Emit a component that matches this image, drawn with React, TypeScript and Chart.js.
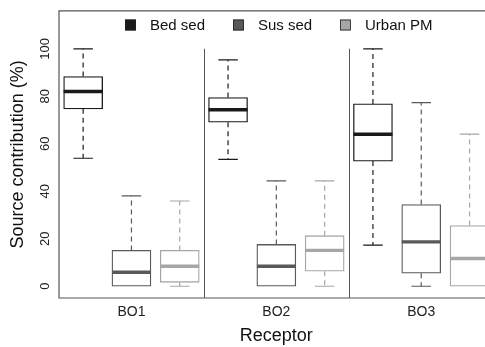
import React, { useEffect, useRef } from 'react';
import { Chart, registerables } from 'chart.js';

Chart.register(...registerables);

// ---- data ----
const receptors = ['BO1', 'BO2', 'BO3'];
const receptorPositions = [2, 5, 8];
const separatorPositions = [3.5, 6.5];
const seriesNames = ['Bed sed', 'Sus sed', 'Urban PM'];
const seriesColors = ['#1a1a1a', '#595959', '#a6a6a6'];
const yTicks = [0, 20, 40, 60, 80, 100];

// five-number summaries per receptor (BO1, BO2, BO3)
const bedMin = [53.9, 53.4, 17.3];
const bedQ1 = [74.7, 69.1, 52.7];
const bedMedian = [82.0, 74.3, 64.0];
const bedQ3 = [88.3, 79.5, 76.8];
const bedMax = [100, 95.3, 100];

const susMin = [0, 0, 0];
const susQ1 = [0, 0, 5.5];
const susMedian = [5.9, 8.4, 18.7];
const susQ3 = [15.1, 17.6, 34.4];
const susMax = [38.1, 44.4, 77.3];

const urbanMin = [0, 0, 0];
const urbanQ1 = [1.65, 6.3, 0];
const urbanMedian = [8.4, 15.1, 11.7];
const urbanQ3 = [15.1, 21.3, 25.6];
const urbanMax = [35.9, 44.4, 64.1];

const summaries = [
  { min: bedMin, q1: bedQ1, med: bedMedian, q3: bedQ3, max: bedMax },
  { min: susMin, q1: susQ1, med: susMedian, q3: susQ3, max: susMax },
  { min: urbanMin, q1: urbanQ1, med: urbanMedian, q3: urbanQ3, max: urbanMax },
];

const FONT = "'Liberation Sans', Arial, Helvetica, sans-serif";
const FRAME = '#555555';

const boxPlugin = {
  id: 'boxExtras',
  beforeDatasetsDraw(chart: any) {
    const { ctx, chartArea, scales } = chart;
    const x = scales.x;
    const y = scales.y;
    ctx.save();
    ctx.strokeStyle = FRAME;
    ctx.lineWidth = 1.2;
    // frame: top, left, bottom (right edge lies outside the canvas)
    ctx.beginPath();
    ctx.moveTo(chartArea.right + 5, chartArea.top);
    ctx.lineTo(chartArea.left, chartArea.top);
    ctx.lineTo(chartArea.left, chartArea.bottom);
    ctx.lineTo(chartArea.right + 5, chartArea.bottom);
    ctx.stroke();
    // separators between receptors
    ctx.lineWidth = 1;
    separatorPositions.forEach((v) => {
      const px = Math.round(x.getPixelForValue(v)) + 0.5;
      ctx.beginPath();
      ctx.moveTo(px, y.getPixelForValue(100));
      ctx.lineTo(px, chartArea.bottom);
      ctx.stroke();
    });
    ctx.restore();
  },
  afterDatasetsDraw(chart: any) {
    const { ctx, chartArea, scales } = chart;
    const y = scales.y;
    ctx.save();
    ctx.beginPath();
    ctx.rect(chartArea.left, chartArea.top, chartArea.right - chartArea.left, chartArea.bottom - chartArea.top);
    ctx.clip();
    summaries.forEach((s, si) => {
      const meta = chart.getDatasetMeta(si);
      const color = seriesColors[si];
      meta.data.forEach((el: any, ri: number) => {
        const cx = el.x;
        const w = el.width;
        const yMin = y.getPixelForValue(s.min[ri]);
        const yQ1 = y.getPixelForValue(s.q1[ri]);
        const yMed = y.getPixelForValue(s.med[ri]);
        const yQ3 = y.getPixelForValue(s.q3[ri]);
        const yMax = y.getPixelForValue(s.max[ri]);
        ctx.strokeStyle = color;
        // dashed whiskers
        ctx.lineWidth = 1.2;
        ctx.setLineDash([5, 4]);
        ctx.beginPath();
        ctx.moveTo(cx, yQ3);
        ctx.lineTo(cx, yMax);
        if (s.min[ri] < s.q1[ri]) {
          ctx.moveTo(cx, yQ1);
          ctx.lineTo(cx, yMin);
        }
        ctx.stroke();
        // staples
        ctx.setLineDash([]);
        ctx.beginPath();
        ctx.moveTo(cx - w / 4, yMax);
        ctx.lineTo(cx + w / 4, yMax);
        if (s.min[ri] < s.q1[ri]) {
          ctx.moveTo(cx - w / 4, yMin);
          ctx.lineTo(cx + w / 4, yMin);
        }
        ctx.stroke();
        // median
        ctx.lineWidth = 3.4;
        ctx.beginPath();
        ctx.moveTo(cx - w / 2, yMed);
        ctx.lineTo(cx + w / 2, yMed);
        ctx.stroke();
      });
    });
    ctx.restore();
  },
  afterDraw(chart: any) {
    const { ctx, scales } = chart;
    const x = scales.x;
    ctx.save();
    // legend
    const legendSquareX = [125, 233, 340];
    const legendTextX = [150, 258, 365];
    const legendY = 25;
    ctx.font = `15px ${FONT}`;
    ctx.textBaseline = 'middle';
    ctx.textAlign = 'left';
    seriesNames.forEach((name, i) => {
      ctx.fillStyle = seriesColors[i];
      ctx.fillRect(legendSquareX[i], legendY - 5.5, 11, 11);
      ctx.strokeStyle = '#222';
      ctx.lineWidth = 0.8;
      ctx.strokeRect(legendSquareX[i] + 0.5, legendY - 5, 10, 10);
      ctx.fillStyle = '#111';
      ctx.fillText(name, legendTextX[i], legendY + 0.5);
    });
    // x axis title, centred on the middle receptor
    ctx.font = `18px ${FONT}`;
    ctx.textAlign = 'center';
    ctx.fillStyle = '#111';
    ctx.fillText('Receptor', x.getPixelForValue(receptorPositions[1]), 336);
    ctx.restore();
  },
};

export default function App() {
  const ref = useRef<HTMLCanvasElement | null>(null);
  useEffect(() => {
    if (!ref.current) return;
    const datasets = summaries.map((s, si) => ({
      type: 'bar' as const,
      label: seriesNames[si],
      data: receptors.map((_, ri) => ({ x: ri * 3 + si + 1, y: [s.q1[ri], s.q3[ri]] })),
      backgroundColor: '#ffffff',
      borderColor: seriesColors[si],
      borderWidth: 1.3,
      borderSkipped: false,
      barThickness: 39,
      grouped: false,
    }));
    const chart = new Chart(ref.current, {
      type: 'bar',
      data: { datasets } as any,
      options: {
        animation: false,
        responsive: false,
        devicePixelRatio: 1,
        layout: { padding: { top: 5, left: 0, right: 0, bottom: 0 } },
        plugins: { legend: { display: false }, tooltip: { enabled: false } },
        scales: {
          x: {
            type: 'linear',
            min: 0.5,
            max: 9.32,
            offset: false,
            grid: { display: false, drawTicks: false },
            border: { display: false },
            afterBuildTicks: (scale: any) => {
              scale.ticks = receptorPositions.map((v) => ({ value: v }));
            },
            afterFit: (scale: any) => {
              scale.height = 49;
            },
            ticks: {
              autoSkip: false,
              maxRotation: 0,
              padding: 6,
              color: '#222',
              font: { family: FONT, size: 14 },
              callback: (value: any) => receptors[receptorPositions.indexOf(Number(value))] ?? '',
            },
          },
          y: {
            type: 'linear',
            min: -4.95,
            max: 116,
            grid: { display: false, drawTicks: false },
            border: { display: false },
            afterBuildTicks: (scale: any) => {
              scale.ticks = yTicks.map((v) => ({ value: v }));
            },
            afterFit: (scale: any) => {
              scale.width = 59;
            },
            ticks: {
              minRotation: 90,
              maxRotation: 90,
              crossAlign: 'center',
              padding: 3,
              color: '#222',
              font: { family: FONT, size: 13 },
            },
            title: {
              display: true,
              text: 'Source contribution (%)',
              color: '#111',
              font: { family: FONT, size: 18 },
              padding: { top: 7, bottom: 0 },
            },
          },
        },
      } as any,
      plugins: [boxPlugin],
    });
    return () => chart.destroy();
  }, []);
  return (
    <div style={{ position: 'fixed', left: 0, top: 0, width: 485, height: 347, background: '#fff' }}>
      <canvas ref={ref} width={485} height={347} style={{ display: 'block' }} />
    </div>
  );
}
